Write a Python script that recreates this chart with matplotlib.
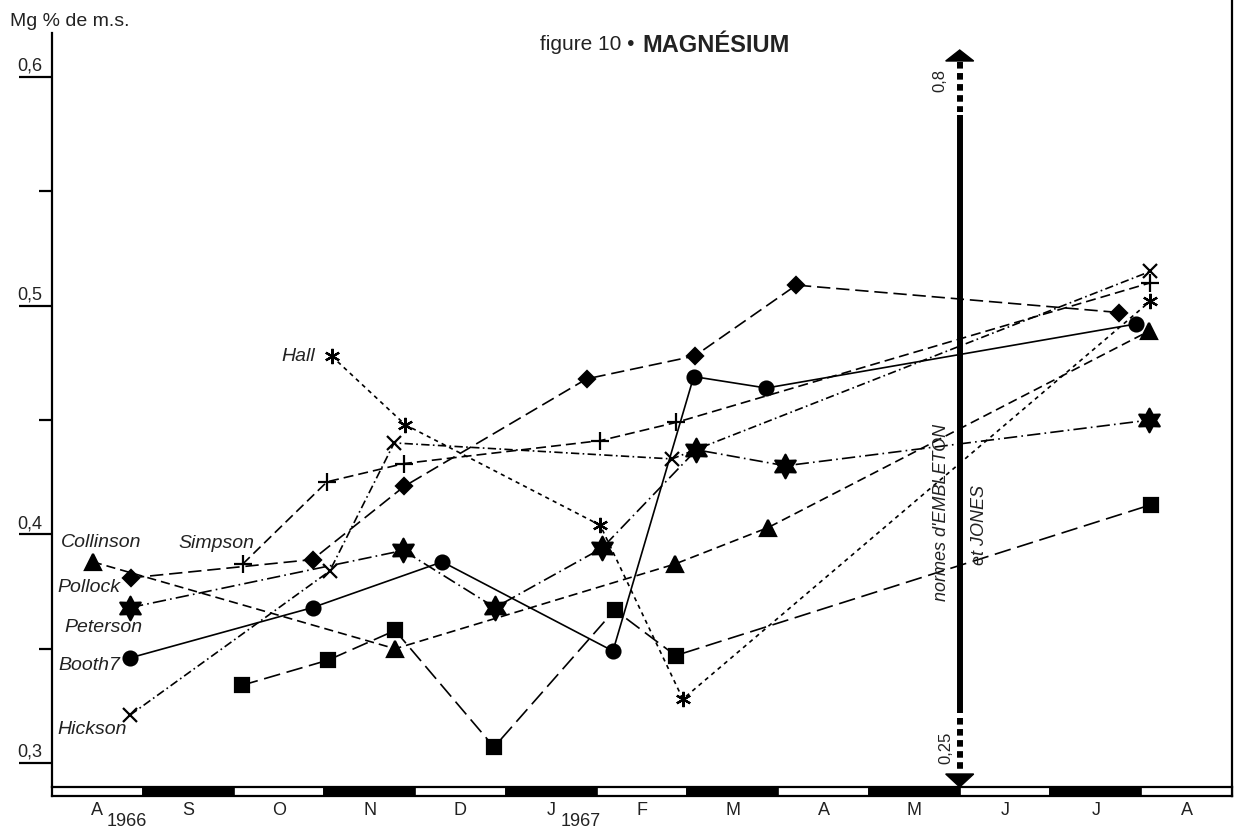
import numpy as np
import matplotlib
matplotlib.use("Agg")
import matplotlib.pyplot as plt
from matplotlib.path import Path
from matplotlib.patches import Polygon

plt.rcParams['font.family'] = ['Liberation Sans', 'DejaVu Sans']

# ---------------- data ----------------
# x axis: months, 0 = start of August 1966, one unit per month
month_labels = ['A', 'S', 'O', 'N', 'D', 'J', 'F', 'M', 'A', 'M', 'J', 'J', 'A']
year_labels = ['1966', '1967']
year_months = [0, 5]

ytick_vals = [0.3, 0.4, 0.5, 0.6]
ytick_labels = ['0,3', '0,4', '0,5', '0,6']
yminor_vals = [0.35, 0.45, 0.55]

collinson_x = [0.45, 3.78, 6.86, 7.89, 12.09]
collinson_y = [0.388, 0.350, 0.387, 0.403, 0.489]

pollock_x = [0.87, 2.87, 3.88, 5.89, 7.08, 8.20, 11.76]
pollock_y = [0.381, 0.389, 0.421, 0.468, 0.478, 0.509, 0.497]

simpson_x = [2.10, 3.03, 3.88, 6.04, 6.88, 12.10]
simpson_y = [0.387, 0.423, 0.431, 0.441, 0.449, 0.510]

hickson_x = [0.86, 3.06, 3.77, 6.83, 12.10]
hickson_y = [0.321, 0.384, 0.440, 0.433, 0.515]

hall_x = [3.08, 3.89, 6.04, 6.95, 12.10]
hall_y = [0.478, 0.448, 0.404, 0.328, 0.502]

booth7_x = [0.86, 2.87, 4.30, 6.18, 7.07, 7.87, 11.94]
booth7_y = [0.346, 0.368, 0.388, 0.349, 0.469, 0.464, 0.492]

peterson_x = [0.86, 3.87, 4.88, 6.06, 7.10, 8.08, 12.09]
peterson_y = [0.368, 0.393, 0.368, 0.394, 0.437, 0.430, 0.450]

squares_x = [2.09, 3.04, 3.78, 4.87, 6.20, 6.87, 12.11]
squares_y = [0.334, 0.345, 0.358, 0.307, 0.367, 0.347, 0.413]

norm_month = 10.0          # EMBLETON & JONES norms marker (end of May)
norm_low, norm_high = '0,25', '0,8'

# ---------------- figure ----------------
W, H = 1237, 830
fig = plt.figure(figsize=(W / 100, H / 100), dpi=100)
fig.patch.set_facecolor('white')

px_left, px_right, px_top, px_bottom = 52, 1232, 33, 787
ax = fig.add_axes([px_left / W, 1 - px_bottom / H,
                   (px_right - px_left) / W, (px_bottom - px_top) / H])
ax.set_xlim(0, 13)
ax.set_ylim(0.28955, 0.61924)

star6 = Path.unit_regular_star(6, 0.55)

series = [
    # x, y, marker, ms, linestyle, name, label offset (px), ha
    (collinson_x, collinson_y, '^', 11, (0, (5.5, 3)), 'Collinson', (8, 19), 'center'),
    (pollock_x, pollock_y, 'D', 8, (0, (8, 3.5)), 'Pollock', (-11, -10), 'right'),
    (simpson_x, simpson_y, '+', 13, (0, (6, 3)), 'Simpson', (-26, 21), 'center'),
    (hickson_x, hickson_y, 'x', 10.5, (0, (5, 2, 1, 2)), 'Hickson', (-3, -14), 'right'),
    (hall_x, hall_y, (6, 2, 0), 11, (0, (2.5, 2.5)), 'Hall', (-16, 0), 'right'),
    (booth7_x, booth7_y, 'o', 10, '-', 'Booth7', (-10, -8), 'right'),
    (peterson_x, peterson_y, star6, 17, (0, (8, 2.5, 1, 2.5)), 'Peterson', (-27, -20), 'center'),
    (squares_x, squares_y, 's', 9.5, (0, (10, 4)), None, None, None),
]

for xs, ys, mk, ms, ls, name, off, ha in series:
    ax.plot(xs, ys, color='black', lw=1.2, linestyle=ls, zorder=2)
    ax.plot(xs, ys, linestyle='none', marker=mk, ms=ms, color='black',
            mfc='black', mec='black', mew=1.6, zorder=3)
    if name:
        ax.annotate(name, xy=(xs[0], ys[0]), xytext=off, textcoords='offset pixels',
                    ha=ha, va='center', fontsize=14, style='italic', color='#222222')

# axes styling
for s in ['top', 'bottom', 'right']:
    ax.spines[s].set_visible(False)
ax.spines['left'].set_linewidth(1.6)
ax.set_xticks([])
ax.set_yticks(ytick_vals)
ax.set_yticks(yminor_vals, minor=True)
ax.tick_params(axis='y', which='major', length=24, width=1.6, labelleft=False)
ax.tick_params(axis='y', which='minor', length=9.5, width=1.6)
for v, lab in zip(ytick_vals, ytick_labels):
    ax.text(-0.0085, v + 0.001, lab, transform=ax.get_yaxis_transform(),
            ha='right', va='bottom', fontsize=13, color='#222222')

# right border line
ax.plot([13, 13], [-0.012, 1.05], transform=ax.get_xaxis_transform(),
        color='black', lw=1.6, clip_on=False)

# ---------------- norms arrow ----------------
tx = ax.get_xaxis_transform()
def fy(py):
    return (px_bottom - py) / (px_bottom - px_top)

ax.plot([norm_month, norm_month], [fy(115), fy(713)], transform=tx, color='black',
        lw=4.3, solid_capstyle='butt', zorder=4)
ax.plot([norm_month, norm_month], [fy(62), fy(112)], transform=tx, color='black',
        lw=4.3, linestyle=(0, (1.1, 0.75)), dash_capstyle='butt', zorder=4)
ax.plot([norm_month, norm_month], [fy(718), fy(772)], transform=tx, color='black',
        lw=4.3, linestyle=(0, (1.1, 0.75)), dash_capstyle='butt', zorder=4)
hw = 14 / 90.77
ax.add_patch(Polygon([[norm_month - hw, fy(61)], [norm_month, fy(50)],
                      [norm_month + hw, fy(61)]], closed=True, transform=tx,
                     color='black', zorder=4, clip_on=False))
ax.add_patch(Polygon([[norm_month - hw, fy(774)], [norm_month, fy(787)],
                      [norm_month + hw, fy(774)]], closed=True, transform=tx,
                     color='black', zorder=4, clip_on=False))
ax.text(norm_month - 0.22, fy(80), norm_high, transform=tx, rotation=90,
        ha='center', va='center', fontsize=12, color='#222222')
ax.text(norm_month - 0.15, fy(748), norm_low, transform=tx, rotation=90,
        ha='center', va='center', fontsize=12, color='#222222')
ax.text(norm_month - 0.2, fy(512), "normes d'EMBLETON", transform=tx, rotation=90,
        ha='center', va='center', fontsize=13, style='italic', color='#222222',
        zorder=5)
ax.text(norm_month + 0.22, fy(525), "et JONES", transform=tx, rotation=90,
        ha='center', va='center', fontsize=13, style='italic', color='#222222',
        zorder=5)

# ---------------- month bar ----------------
bar_top, bar_bot = 787, 796
axb = fig.add_axes([px_left / W, 1 - bar_bot / H,
                    (px_right - px_left) / W, (bar_bot - bar_top) / H])
axb.set_xlim(0, 13)
axb.set_ylim(0, 1)
centers = np.arange(len(month_labels)) + 0.5
colors = ['white' if i % 2 == 0 else 'black' for i in range(len(month_labels))]
axb.bar(centers, 1, width=1, color=colors, edgecolor='black', linewidth=1.2)
for s in axb.spines.values():
    s.set_linewidth(1.6)
axb.set_yticks([])
axb.set_xticks(centers)
axb.set_xticklabels(month_labels, fontsize=13, color='#222222')
axb.tick_params(axis='x', length=0, pad=4)
for m, yr in zip(year_months, year_labels):
    axb.text(m + 0.6, -2.8, yr, transform=axb.get_xaxis_transform(),
             ha='left', va='center', fontsize=13, color='#222222')

# ---------------- titles ----------------
fig.text(10 / W, 1 - 22 / H, 'Mg % de m.s.', ha='left', va='center',
         fontsize=14, color='#222222')
fig.text(634 / W, 1 - 45 / H, 'figure 10 •', ha='right', va='center',
         fontsize=15, color='#222222')
fig.text(642 / W, 1 - 45 / H, 'MAGNÉSIUM', ha='left', va='center',
         fontsize=17, fontweight='bold', color='#222222')

fig.savefig('out.png', dpi=100, facecolor='white')
